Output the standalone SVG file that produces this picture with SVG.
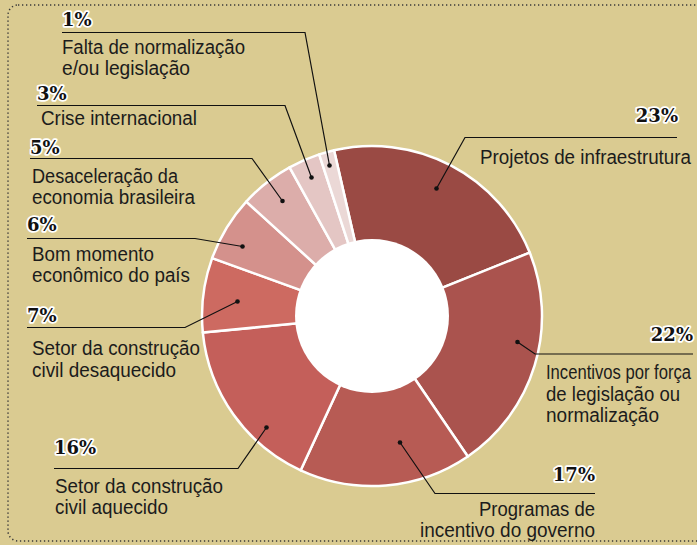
<svg xmlns="http://www.w3.org/2000/svg" width="697" height="545" viewBox="0 0 697 545">
<style>
.lbl{font-family:"Liberation Sans","Noto Sans",sans-serif;font-size:19.5px;fill:#1c1c1c}
.pct{font-family:"DejaVu Serif","Liberation Serif",serif;font-weight:bold;font-size:18px;fill:#111;stroke:#fff;stroke-width:3.5px;stroke-linejoin:round;paint-order:stroke}
.w{stroke:#fff;stroke-width:2.5;stroke-linejoin:round}
.ld{fill:none;stroke:#111;stroke-width:1.2}
.dot{fill:#111}
</style>
<rect x="0" y="0" width="697" height="545" fill="#dacb91"/>
<rect x="8" y="5" width="720" height="536" rx="10" fill="none" stroke="#3a3a3a" stroke-width="1.5" stroke-dasharray="1.3 2.7"/>

<g id="n23">
<path class="w" fill="#9a4a44" d="M372 316 L334.04 150.28 A170 170 0 0 1 529.73 252.59 Z"/>
<text class="pct" x="678" y="122" text-anchor="end">23%</text>
<text class="lbl" x="480" y="163.5" textLength="211" lengthAdjust="spacingAndGlyphs">Projetos de infraestrutura</text>
</g>
<g id="n22">
<path class="w" fill="#aa534e" d="M372 316 L529.73 252.59 A170 170 0 0 1 467.80 456.44 Z"/>
<text class="pct" x="693" y="341" text-anchor="end">22%</text>
<text class="lbl" x="546" y="378.5" textLength="145" lengthAdjust="spacingAndGlyphs">Incentivos por força</text>
<text class="lbl" x="546" y="400.5" textLength="134" lengthAdjust="spacingAndGlyphs">de legislação ou</text>
<text class="lbl" x="546" y="421.5" textLength="113" lengthAdjust="spacingAndGlyphs">normalização</text>
</g>
<g id="n17">
<path class="w" fill="#b75b54" d="M372 316 L467.80 456.44 A170 170 0 0 1 300.69 470.33 Z"/>
<text class="pct" x="595" y="481" text-anchor="end">17%</text>
<text class="lbl" x="479" y="516" textLength="116" lengthAdjust="spacingAndGlyphs">Programas de</text>
<text class="lbl" x="420" y="536.5" textLength="175" lengthAdjust="spacingAndGlyphs">incentivo do governo</text>
</g>
<g id="n16">
<path class="w" fill="#c45f5a" d="M372 316 L300.69 470.33 A170 170 0 0 1 202.82 332.59 Z"/>
<text class="pct" x="54" y="453.5">16%</text>
<text class="lbl" x="55" y="492.5" textLength="168" lengthAdjust="spacingAndGlyphs">Setor da construção</text>
<text class="lbl" x="55" y="514" textLength="113" lengthAdjust="spacingAndGlyphs">civil aquecido</text>
</g>
<g id="n7">
<path class="w" fill="#cd6a61" d="M372 316 L202.82 332.59 A170 170 0 0 1 212.15 258.13 Z"/>
<text class="pct" x="27" y="321.5">7%</text>
<text class="lbl" x="32" y="355" textLength="168" lengthAdjust="spacingAndGlyphs">Setor da construção</text>
<text class="lbl" x="32" y="376.5" textLength="144" lengthAdjust="spacingAndGlyphs">civil desaquecido</text>
</g>
<g id="n6">
<path class="w" fill="#d4918c" d="M372 316 L212.15 258.13 A170 170 0 0 1 246.27 201.59 Z"/>
<text class="pct" x="27" y="230.5">6%</text>
<text class="lbl" x="32" y="260.5" textLength="122" lengthAdjust="spacingAndGlyphs">Bom momento</text>
<text class="lbl" x="32" y="281.5" textLength="158" lengthAdjust="spacingAndGlyphs">econômico do país</text>
</g>
<g id="n5">
<path class="w" fill="#dcadaa" d="M372 316 L246.27 201.59 A170 170 0 0 1 289.58 167.32 Z"/>
<text class="pct" x="30" y="153.5">5%</text>
<text class="lbl" x="32" y="182.5" textLength="146" lengthAdjust="spacingAndGlyphs">Desaceleração da</text>
<text class="lbl" x="32" y="204" textLength="163" lengthAdjust="spacingAndGlyphs">economia brasileira</text>
</g>
<g id="n3">
<path class="w" fill="#e4c6c4" d="M372 316 L289.58 167.32 A170 170 0 0 1 319.18 154.41 Z"/>
<text class="pct" x="37" y="99.5">3%</text>
<text class="lbl" x="41" y="125" textLength="156" lengthAdjust="spacingAndGlyphs">Crise internacional</text>
</g>
<g id="n1">
<path class="w" fill="#ebd8d6" d="M372 316 L319.18 154.41 A170 170 0 0 1 334.04 150.28 Z"/>
<text class="pct" x="62" y="26">1%</text>
<text class="lbl" x="62" y="54" textLength="183" lengthAdjust="spacingAndGlyphs">Falta de normalização</text>
<text class="lbl" x="62" y="75" textLength="128" lengthAdjust="spacingAndGlyphs">e/ou legislação</text>
</g>
<circle id="hole" cx="372" cy="316" r="77" fill="#fff"/>

<g id="connectors">
<path class="ld" d="M62 32.5 H305 L329.5 165.5"/>
<path class="ld" d="M37 105.5 H285 L311.5 177.5"/>
<path class="ld" d="M30 158.5 H252 L282.5 201"/>
<path class="ld" d="M27 238.5 H195 L242.5 246.5"/>
<path class="ld" d="M27 327.5 H185 L237.5 301.5"/>
<path class="ld" d="M54 468.5 H238 L266.5 427.5"/>
<path class="ld" d="M595 493.5 H435 L400 442.5"/>
<path class="ld" d="M693 354 H535 L517.5 342"/>
<path class="ld" d="M677 137.5 H465 L436.5 188.5"/>
<circle class="dot" cx="329.5" cy="165.5" r="2.3"/>
<circle class="dot" cx="311.5" cy="177.5" r="2.3"/>
<circle class="dot" cx="282.5" cy="201" r="2.3"/>
<circle class="dot" cx="242.5" cy="246.5" r="2.3"/>
<circle class="dot" cx="237.5" cy="301.5" r="2.3"/>
<circle class="dot" cx="266.5" cy="427.5" r="2.3"/>
<circle class="dot" cx="400" cy="442.5" r="2.3"/>
<circle class="dot" cx="517.5" cy="342" r="2.3"/>
<circle class="dot" cx="436.5" cy="188.5" r="2.3"/>
</g>
</svg>
